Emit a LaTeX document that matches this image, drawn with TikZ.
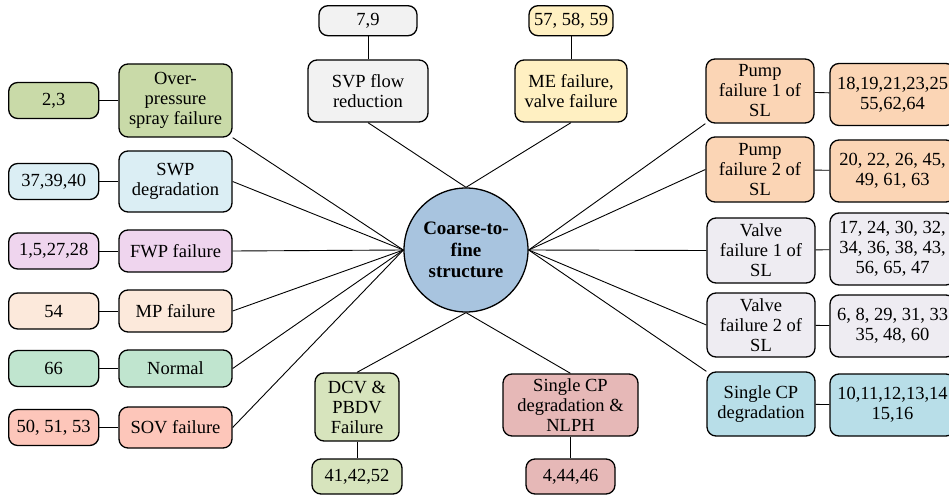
\documentclass[tikz,border=0pt]{standalone}
\usepackage{fontspec}
\setmainfont{Liberation Serif}
\usetikzlibrary{positioning}
\definecolor{overgreen}{HTML}{C9DAA8}
\definecolor{swpblue}{HTML}{DBEEF4}
\definecolor{fwppink}{HTML}{EFD5EE}
\definecolor{mppeach}{HTML}{FCE9DB}
\definecolor{normmint}{HTML}{C0E5CF}
\definecolor{sovsalmon}{HTML}{FDC6BA}
\definecolor{svpgray}{HTML}{F2F2F2}
\definecolor{meyellow}{HTML}{FFF0C2}
\definecolor{pumppeach}{HTML}{FBD5B5}
\definecolor{valvegray}{HTML}{EEECF2}
\definecolor{scpblue}{HTML}{B8DEE8}
\definecolor{dcvgreen}{HTML}{D7E4BD}
\definecolor{cpnpink}{HTML}{E6B8B7}
\definecolor{hubblue}{HTML}{A8C4DF}

\begin{document}
\begin{tikzpicture}[x=1pt, y=-1pt, font=\fontsize{18.5}{20}\selectfont,
    box/.style = {draw, line width=1.3pt, rounded corners=9pt, align=center, inner sep=2pt},
    lcat/.style = {box, minimum width=113pt},
    lval/.style = {box, minimum width=90pt, minimum height=36pt},
    rcat/.style = {box, minimum width=108pt, minimum height=64pt},
    rval/.style = {box, minimum width=125pt, minimum height=62pt},
    hub/.style = {draw, circle, line width=1.3pt, fill=hubblue, minimum size=124pt, align=center,
        font=\fontsize{19}{21.5}\selectfont\bfseries},
    link/.style = {line width=0.9pt}]
    \useasboundingbox (0,0) rectangle (949,497);
    \clip (0,0) rectangle (949,497);

    \node[hub] (core) at (466,250) {Coarse-to-\\fine\\structure};

    % left side
    \node[lcat, fill=overgreen, minimum height=73pt] (over) at (175.5,100.5) {Over-\\pressure\\spray failure};
    \node[lcat, fill=swpblue, minimum height=61pt] (swp) at (175.5,181.5) {SWP\\degradation};
    \node[lcat, fill=fwppink, minimum height=42pt] (fwp) at (175.5,251) {FWP failure};
    \node[lcat, fill=mppeach, minimum height=42pt] (mp) at (175.5,311) {MP failure};
    \node[lcat, fill=normmint, minimum height=37pt] (norm) at (175.5,368.5) {Normal};
    \node[lcat, fill=sovsalmon, minimum height=41pt] (sov) at (175.5,427.5) {SOV failure};

    \node[lval, fill=overgreen] (overv) [left=19pt of over] {2,3};
    \node[lval, fill=swpblue] (swpv) [left=19pt of swp] {37,39,40};
    \node[lval, fill=fwppink] (fwpv) [left=19pt of fwp] {1,5,27,28};
    \node[lval, fill=mppeach] (mpv) [left=19pt of mp] {54};
    \node[lval, fill=normmint] (normv) [left=19pt of norm] {66};
    \node[lval, fill=sovsalmon] (sovv) [left=19pt of sov] {50, 51, 53};

    % top
    \node[box, fill=svpgray, minimum width=120pt, minimum height=62pt] (svp) at (368,91) {SVP flow\\reduction};
    \node[box, fill=meyellow, minimum width=112pt, minimum height=62pt] (me) at (571,91) {ME failure,\\valve failure};
    \node[box, fill=svpgray, minimum width=98pt, minimum height=30pt] (svpv) [above=23pt of svp] {7,9};
    \node[box, fill=meyellow, minimum width=84pt, minimum height=30pt] (mev) [above=23pt of me] {57, 58, 59};

    % bottom
    \node[box, fill=dcvgreen, minimum width=84pt, minimum height=68pt] (dcv) at (357,407) {DCV \&\\PBDV\\Failure};
    \node[box, fill=cpnpink, minimum width=135pt, minimum height=62pt] (cpn) at (570.5,405) {Single CP\\degradation \&\\NLPH};
    \node[box, fill=dcvgreen, minimum width=90pt, minimum height=35pt] (dcvv) at (357,476.5) {41,42,52};
    \node[box, fill=cpnpink, minimum width=89pt, minimum height=35pt] (cpnv) at (570.5,476.5) {4,44,46};

    % right side
    \node[rcat, fill=pumppeach] (pump1) at (760,91) {Pump\\failure 1 of\\SL};
    \node[rcat, fill=pumppeach, minimum height=65pt] (pump2) at (760,169.5) {Pump\\failure 2 of\\SL};
    \node[rcat, fill=valvegray, minimum height=65pt] (valve1) at (761,250.5) {Valve\\failure 1 of\\SL};
    \node[rcat, fill=valvegray] (valve2) at (761,325) {Valve\\failure 2 of\\SL};
    \node[rcat, fill=scpblue] (scp) at (761,404) {Single CP\\degradation};

    \node[rval, fill=pumppeach] (pump1v) at (892.5,94.5) {18,19,21,23,25\\55,62,64};
    \node[rval, fill=pumppeach] (pump2v) at (892.5,171) {20, 22, 26, 45,\\49, 61, 63};
    \node[rval, fill=valvegray, minimum height=72pt] (valve1v) at (892.5,249) {17, 24, 30, 32,\\34, 36, 38, 43,\\56, 65, 47};
    \node[rval, fill=valvegray] (valve2v) at (892.5,326) {6, 8, 29, 31, 33\\35, 48, 60};
    \node[rval, fill=scpblue] (scpv) at (892.5,405) {10,11,12,13,14\\15,16};

    % links to the hub
    \draw[link] (over.south east) -- (core.west);
    \foreach \n in {swp, fwp, mp, norm, sov}
        \draw[link] (\n.east) -- (core.west);
    \draw[link] (core.east) -- (pump1.south west);
    \foreach \n in {pump2, valve1, valve2}
        \draw[link] (core.east) -- (\n.west);
    \draw[link] (core.east) -- (scp.north west);
    \draw[link] (core.north) -- (svp.south);
    \draw[link] (core.north) -- (me.south);
    \draw[link] (core.south) -- (dcv.north);
    \draw[link] (core.south) -- (cpn.north);

    % category to values
    \foreach \n in {over, swp, fwp, mp, norm, sov, svp, me, dcv, cpn, pump1, pump2, valve1, valve2, scp}
        \draw[link] (\n) -- (\n v);
\end{tikzpicture}
\end{document}
